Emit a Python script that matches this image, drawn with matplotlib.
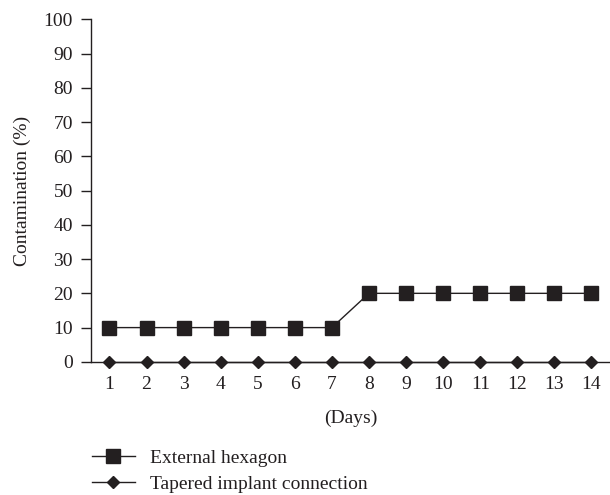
import numpy as np
from matplotlib import pyplot as plt
from matplotlib.lines import Line2D

days = list(range(1, 15))
external_hexagon = [10, 10, 10, 10, 10, 10, 10, 20, 20, 20, 20, 20, 20, 20]
tapered_connection = [0] * 14
yticks = list(range(0, 101, 10))

plt.rcParams['font.family'] = ['Liberation Serif', 'DejaVu Serif']
plt.rcParams['font.size'] = 14
col = '#231f20'

fig = plt.figure(figsize=(6.1, 4.95), dpi=100)
ax = fig.add_axes([0.149, 0.269, 0.851, 0.692])

ax.plot(days, external_hexagon, color=col, lw=1.0, marker='s', ms=9.5,
        label='External hexagon')
ax.plot(days, tapered_connection, color=col, lw=1.0, marker='D', ms=6,
        label='Tapered implant connection', clip_on=False, zorder=5)

ax.set_xlim(0.5, 14.5)
ax.set_ylim(0, 100)
ax.set_xticks(days)
ax.set_yticks(yticks)
ax.tick_params(axis='x', length=0, pad=10, colors=col)
ax.tick_params(axis='y', length=7, width=1, direction='out', pad=6, colors=col)
for s in ['top', 'right']:
    ax.spines[s].set_visible(False)
for s in ['left', 'bottom']:
    ax.spines[s].set_color(col)
    ax.spines[s].set_linewidth(1)

ax.set_xlabel('(Days)', color=col, labelpad=12)
ax.set_ylabel('Contamination (%)', color=col, labelpad=9)

fig.legend(loc='upper left', bbox_to_anchor=(0.135, 0.112), frameon=False,
           handlelength=2.2, handletextpad=0.8, labelspacing=0.42,
           borderpad=0, labelcolor=col)

fig.savefig('out.png', dpi=100)
